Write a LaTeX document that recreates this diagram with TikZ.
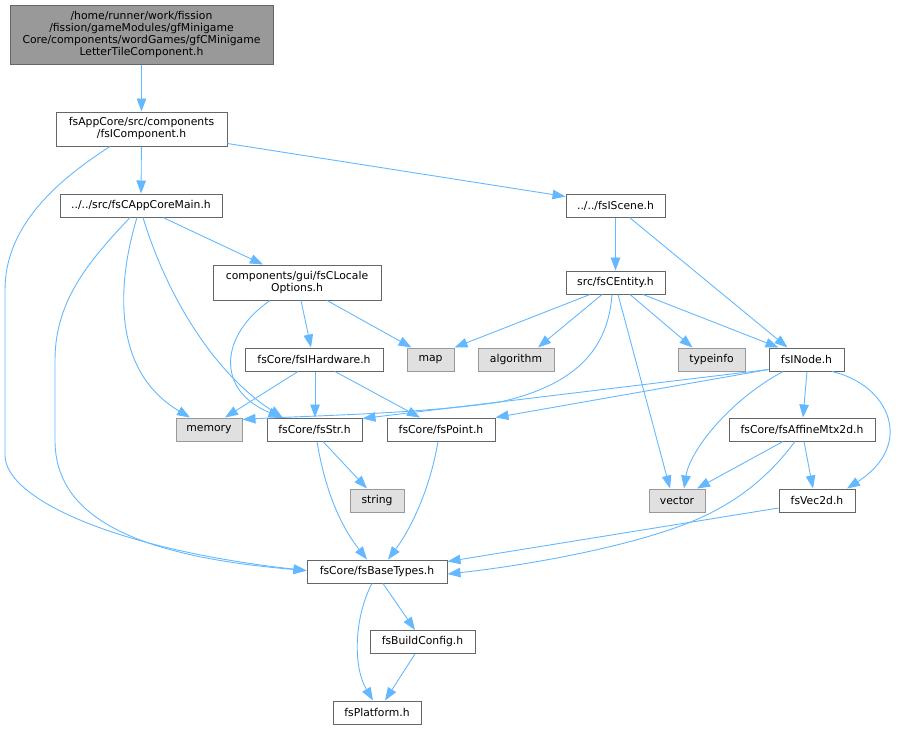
\documentclass[tikz,border=0pt]{standalone}
\usepackage{fontspec}
\setmainfont{DejaVu Sans}
\usetikzlibrary{arrows.meta}
\definecolor{edgeblue}{HTML}{63B8FF}
\definecolor{boxline}{HTML}{666666}
\definecolor{greyline}{HTML}{999999}
\definecolor{greyfill}{HTML}{E0E0E0}
\definecolor{rootfill}{HTML}{999999}
\tikzset{
  filebox/.style={draw=boxline, line width=1pt, fill=white, inner sep=0pt, minimum height=23pt,
    font=\fontsize{10.8}{12}\selectfont, align=center},
  sysbox/.style={filebox, draw=greyline, fill=greyfill},
  rootbox/.style={filebox, fill=rootfill},
  dep/.style={draw=edgeblue, line width=0.9pt, -{Triangle[length=13pt,width=9.5pt]}}
}
\begin{document}
\begin{tikzpicture}[x=1pt,y=-1pt]
\useasboundingbox (0,0) rectangle (897,729);
% nodes
\node[rootbox, minimum width=263pt, minimum height=59pt] (root) at (141.5,34.5)
  {/home/runner/work/fission\\/fission/gameModules/gfMinigame\\Core/components/wordGames/gfCMinigame\\LetterTileComponent.h};
\node[filebox, minimum width=171pt, minimum height=34pt] (comp) at (141.5,129) {fsAppCore/src/components\\/fsIComponent.h};
\node[filebox, minimum width=162pt] (main) at (141,205.5) {../../src/fsCAppCoreMain.h};
\node[filebox, minimum width=168pt, minimum height=35pt] (loc) at (297,282.5) {components/gui/fsCLocale\\Options.h};
\node[filebox, minimum width=138pt] (hw) at (314,359.5) {fsCore/fsIHardware.h};
\node[sysbox, minimum width=47pt] (map) at (430.5,359.5) {map};
\node[sysbox, minimum width=66pt] (mem) at (209,429.5) {memory};
\node[filebox, minimum width=95pt] (str) at (314.5,429.5) {fsCore/fsStr.h};
\node[filebox, minimum width=108pt] (pt) at (441,429.5) {fsCore/fsPoint.h};
\node[filebox, minimum width=99pt] (scene) at (615.5,205.5) {../../fsIScene.h};
\node[filebox, minimum width=99pt] (ent) at (615.5,282.5) {src/fsCEntity.h};
\node[sysbox, minimum width=76pt] (alg) at (516,359.5) {algorithm};
\node[sysbox, minimum width=67pt] (ti) at (711.5,359.5) {typeinfo};
\node[filebox, minimum width=75pt] (inode) at (806.5,359.5) {fsINode.h};
\node[filebox, minimum width=146pt] (aff) at (802,429.5) {fsCore/fsAffineMtx2d.h};
\node[sysbox, minimum width=54pt] (strg) at (377,500.5) {string};
\node[sysbox, minimum width=56pt] (vec) at (677,500.5) {vector};
\node[filebox, minimum width=76pt] (v2d) at (817,500.5) {fsVec2d.h};
\node[filebox, minimum width=140pt] (base) at (377,571.5) {fsCore/fsBaseTypes.h};
\node[filebox, minimum width=105pt] (build) at (422.5,642) {fsBuildConfig.h};
\node[filebox, minimum width=88pt] (plat) at (377,712.5) {fsPlatform.h};
% edges
\draw[dep] (root) -- (comp);
\draw[dep] (comp) -- (main);
\draw[dep] ([yshift=3pt]comp.south east) -- ([yshift=-3pt]scene.north west);
\draw[dep] ([xshift=-31.5pt]comp.south) .. controls (50,185) and (5,230) .. (5,290) -- (5,455) .. controls (5,500) and (120,550) .. ([yshift=1pt]base.west);
\draw[dep] ([xshift=22pt]main.south) -- ([xshift=-34pt]loc.north);
\draw[dep] ([xshift=-4pt]main.south) .. controls (118,280) and (110,370) .. ([xshift=-19pt]mem.north);
\draw[dep] ([xshift=2pt]main.south) .. controls (165,290) and (210,370) .. ([xshift=-32pt]str.north);
\draw[dep] ([xshift=-11pt]main.south) .. controls (90,260) and (55,300) .. (55,360) -- (55,440) .. controls (55,510) and (120,555) .. ([yshift=1pt]base.west);
\draw[dep] ([xshift=4pt]loc.south) -- ([xshift=-3pt]hw.north);
\draw[dep] ([xshift=30pt]loc.south) -- ([xshift=-19pt]map.north);
\draw[dep] ([xshift=-27pt]loc.south) .. controls (220,335) and (215,390) .. ([xshift=-33pt]str.north);
\draw[dep] ([xshift=-16pt]hw.south) -- ([xshift=16pt]mem.north);
\draw[dep] ([xshift=1pt]hw.south) -- ([xshift=0.5pt]str.north);
\draw[dep] ([xshift=21pt]hw.south) -- ([xshift=-21pt]pt.north);
\draw[dep] (scene) -- (ent);
\draw[dep] ([xshift=14pt]scene.south) -- ([xshift=-19pt]inode.north);
\draw[dep] ([xshift=-25.5pt]ent.south) -- (map.north east);
\draw[dep] ([xshift=-13.5pt]ent.south) -- ([xshift=22pt]alg.north);
\draw[dep] ([xshift=-3.5pt]ent.south) .. controls (608,350) and (575,385) .. (500,402) .. controls (420,414) and (300,416) .. ([yshift=-2pt]mem.north east);
\draw[dep] ([xshift=2.5pt]ent.south) -- ([xshift=-7pt]vec.north);
\draw[dep] ([xshift=14.5pt]ent.south) -- ([xshift=-19pt]ti.north);
\draw[dep] ([xshift=27.5pt]ent.south) -- ([xshift=-28pt]inode.north);
\draw[dep] ([yshift=2pt]inode.south west) -- (pt.north east);
\draw[dep] ([yshift=2pt]inode.south west) -- ([yshift=-1pt]str.north east);
\draw[dep] ([xshift=-23.5pt]inode.south) .. controls (730,400) and (690,450) .. ([xshift=7pt]vec.north);
\draw[dep] ([xshift=0.5pt]inode.south) -- ([xshift=1pt]aff.north);
\draw[dep] ([xshift=25.5pt]inode.south) .. controls (890,385) and (915,445) .. ([xshift=30pt]v2d.north);
\draw[dep] ([xshift=-19pt]aff.south) -- ([xshift=20pt]vec.north);
\draw[dep] ([xshift=2pt]aff.south) -- ([xshift=-4pt]v2d.north);
\draw[dep] ([xshift=-7pt]aff.south) .. controls (770,475) and (740,500) .. (700,518) .. controls (640,545) and (530,565) .. ([yshift=-2.5pt]base.east);
\draw[dep] ([yshift=-7.5pt]v2d.west) -- ([yshift=-2pt]base.north east);
\draw[dep] ([xshift=8.5pt]str.south) -- ([xshift=-10pt]strg.north);
\draw[dep] ([xshift=2.5pt]str.south) .. controls (325,490) and (340,525) .. ([xshift=-10pt]base.north);
\draw[dep] ([xshift=-3pt]pt.south) .. controls (430,490) and (410,530) .. ([xshift=11pt]base.north);
\draw[dep] ([xshift=6pt]base.south) -- ([xshift=-7.5pt]build.north);
\draw[dep] ([xshift=-5pt]base.south) .. controls (355,615) and (352,665) .. ([xshift=-4pt]plat.north);
\draw[dep] ([xshift=-7.5pt]build.south) -- ([xshift=8pt]plat.north);
\end{tikzpicture}
\end{document}
